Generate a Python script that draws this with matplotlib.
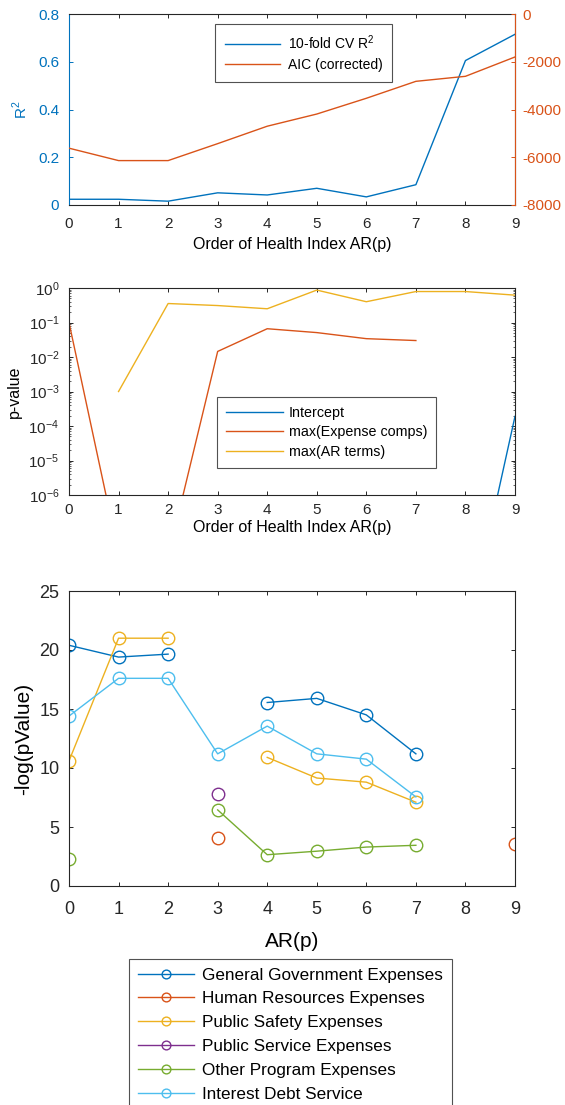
import numpy as np
import matplotlib.pyplot as plt
from matplotlib.ticker import LogLocator, NullFormatter

plt.rcParams['font.family'] = ['Liberation Sans', 'DejaVu Sans']
plt.rcParams['mathtext.fontset'] = 'custom'
plt.rcParams['mathtext.rm'] = 'Liberation Sans'
plt.rcParams['axes.unicode_minus'] = False
plt.rcParams['xtick.direction'] = 'in'
plt.rcParams['ytick.direction'] = 'in'

# MATLAB default line colours
BLUE, ORANGE, YELLOW = '#0072BD', '#D95319', '#EDB120'
PURPLE, GREEN, CYAN = '#7E2F8E', '#77AC30', '#4DBEEE'
DARK = '#262626'

p_order = np.arange(10)

# panel 1: model fit vs AR order
cv_r2 = [0.024, 0.024, 0.016, 0.051, 0.042, 0.070, 0.034, 0.085, 0.605, 0.715]
aic_corr = [-5620, -6140, -6140, -5430, -4700, -4190, -3530, -2820, -2610, -1800]

# panel 2: p-values vs AR order
p_intercept = [1e-14, 1e-14, 1e-13, 1e-13, 1e-12, 1e-12, 1e-11, 1e-11, 6e-11, 1.9e-4]
p_expense = [0.1, 2e-8, 1.6e-8, 0.0145, 0.066, 0.051, 0.034, 0.030, np.nan, np.nan]
p_ar_terms = [np.nan, 1e-3, 0.355, 0.31, 0.25, 0.87, 0.40, 0.79, 0.79, 0.62]

# panel 3: -log(pValue) per expense component
comp_names = ['General Government Expenses', 'Human Resources Expenses',
              'Public Safety Expenses', 'Public Service Expenses',
              'Other Program Expenses', 'Interest Debt Service']
comp_colors = [BLUE, ORANGE, YELLOW, PURPLE, GREEN, CYAN]
nan = np.nan
neglogp = [
    [20.4, 19.4, 19.65, nan, 15.55, 15.9, 14.5, 11.2, nan, nan],
    [nan, nan, nan, 4.1, nan, nan, nan, nan, nan, 3.55],
    [10.6, 21.0, 21.0, nan, 10.9, 9.15, 8.8, 7.1, nan, nan],
    [nan, nan, nan, 7.8, nan, nan, nan, nan, nan, nan],
    [2.3, nan, nan, 6.45, 2.65, 2.95, 3.3, 3.45, nan, nan],
    [14.4, 17.6, 17.6, 11.2, 13.55, 11.2, 10.75, 7.55, nan, nan],
]

fig = plt.figure(figsize=(5.65, 11.05), dpi=100)
W, H = 565, 1105


def box(l, t, r, b):
    return [l / W, 1 - b / H, (r - l) / W, (b - t) / H]


def style(ax, size, xpad, ypad):
    for s in ax.spines.values():
        s.set_color(DARK)
        s.set_linewidth(0.8)
    ax.tick_params(colors=DARK, labelsize=size, length=3, width=0.7,
                   top=True, right=True)
    ax.tick_params(axis='x', pad=xpad)
    ax.tick_params(axis='y', pad=ypad)


# ---- panel 1 ----
ax1 = fig.add_axes(box(69, 14, 515, 205))
style(ax1, 11, 9, 7)
l1, = ax1.plot(p_order, cv_r2, color=BLUE, lw=1.0, label='10-fold CV R$^2$')
ax1.set_xlim(0, 9)
ax1.set_ylim(0, 0.8)
ax1.set_xticks(range(10))
ax1.set_yticks([0, 0.2, 0.4, 0.6, 0.8])
ax1.set_yticklabels(['0', '0.2', '0.4', '0.6', '0.8'])
ax1.tick_params(axis='y', colors=BLUE, right=False)
ax1.spines['left'].set_color(BLUE)
ax1.set_ylabel('R$^2$', color=BLUE, fontsize=11, labelpad=6)
ax1.set_xlabel('Order of Health Index AR(p)', fontsize=11.5, labelpad=4)

ax1b = ax1.twinx()
l2, = ax1b.plot(p_order, aic_corr, color=ORANGE, lw=1.0, label='AIC (corrected)')
ax1b.set_ylim(-8000, 0)
ax1b.set_yticks([-8000, -6000, -4000, -2000, 0])
ax1b.tick_params(axis='y', colors=ORANGE, labelsize=11, length=3, width=0.7,
                 direction='in', pad=5)
for s in ['top', 'bottom', 'left']:
    ax1b.spines[s].set_visible(False)
ax1b.spines['right'].set_color(ORANGE)
leg1 = ax1b.legend(handles=[l1, l2], loc='upper left',
                   bbox_to_anchor=(215 / W, 1 - 24 / H), bbox_transform=fig.transFigure,
                   fontsize=10, frameon=True, fancybox=False, edgecolor=DARK,
                   borderaxespad=0, handlelength=4.0, handletextpad=0.55,
                   borderpad=0.7, labelspacing=0.42)
leg1.get_frame().set_linewidth(0.8)

# ---- panel 2 ----
ax2 = fig.add_axes(box(69, 288, 515, 495))
style(ax2, 11, 6, 7)
ax2.plot(p_order, p_intercept, color=BLUE, lw=1.0, label='Intercept')
ax2.plot(p_order, p_expense, color=ORANGE, lw=1.0, label='max(Expense comps)')
ax2.plot(p_order, p_ar_terms, color=YELLOW, lw=1.0, label='max(AR terms)')
ax2.set_yscale('log')
ax2.set_xlim(0, 9)
ax2.set_ylim(1e-6, 1)
ax2.set_xticks(range(10))
ax2.set_yticks([1e-6, 1e-5, 1e-4, 1e-3, 1e-2, 1e-1, 1])
ax2.yaxis.set_minor_locator(LogLocator(base=10, subs=np.arange(2, 10)))
ax2.yaxis.set_minor_formatter(NullFormatter())
ax2.tick_params(axis='y', which='minor', length=1.5, width=0.5, right=True, colors=DARK)
ax2.set_ylabel('p-value', fontsize=11.5, labelpad=5)
ax2.set_xlabel('Order of Health Index AR(p)', fontsize=11.5, labelpad=2)
leg2 = ax2.legend(loc='upper left', bbox_to_anchor=(217 / W, 1 - 397 / H),
                  bbox_transform=fig.transFigure, fontsize=10.3,
                  frameon=True, fancybox=False, edgecolor=DARK, borderaxespad=0,
                  handlelength=4.0, handletextpad=0.4, borderpad=0.6, labelspacing=0.4)
leg2.get_frame().set_linewidth(0.8)

# ---- panel 3 ----
ax3 = fig.add_axes(box(69, 591, 515, 886))
style(ax3, 13, 11, 7)
handles = []
for name, col, vals in zip(comp_names, comp_colors, neglogp):
    h, = ax3.plot(p_order, vals, color=col, lw=1.0, marker='o', ms=9,
                  mfc='none', mew=1.0, label=name)
    handles.append(h)
ax3.set_xlim(0, 9)
ax3.set_ylim(0, 25)
ax3.set_xticks(range(10))
ax3.set_yticks([0, 5, 10, 15, 20, 25])
ax3.set_ylabel('-log(pValue)', fontsize=15, labelpad=4)
ax3.set_xlabel('AR(p)', fontsize=15, labelpad=10)
leg3 = fig.legend(handles=handles, loc='upper left', bbox_to_anchor=(129 / W, 1 - 959 / H),
                  bbox_transform=fig.transFigure, fontsize=12.3, frameon=True,
                  fancybox=False, edgecolor=DARK, borderaxespad=0, handlelength=3.3,
                  handletextpad=0.5, borderpad=0.5, labelspacing=0.52,
                  markerscale=0.7)
leg3.get_frame().set_linewidth(0.8)

fig.savefig('out.png', dpi=100, facecolor='white')
